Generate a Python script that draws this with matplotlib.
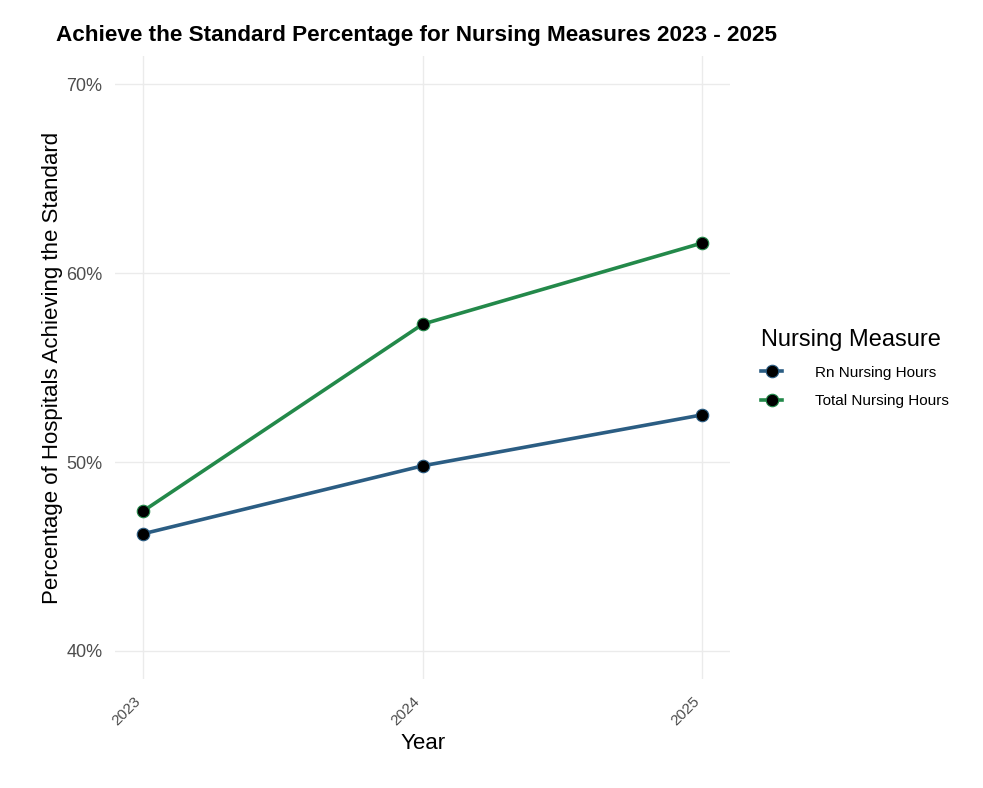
import matplotlib

matplotlib.use("Agg")

import matplotlib.pyplot as plt
from matplotlib.ticker import FuncFormatter

plt.rcParams["font.family"] = ["Liberation Sans", "DejaVu Sans"]

years = [2023, 2024, 2025]
rn_hours = [46.2, 49.8, 52.5]
total_hours = [47.4, 57.3, 61.6]
series_names = ["Rn Nursing Hours", "Total Nursing Hours"]
colors = ["#2b5d83", "#23894a"]

fig = plt.figure(figsize=(9.83, 7.88), dpi=100)
ax = fig.add_axes([0.117, 0.138, 0.626, 0.791])

for values, name, color in zip([rn_hours, total_hours], series_names, colors):
    ax.plot(years, values, color=color, linewidth=2.6, label=name,
            marker="o", markersize=9, markerfacecolor="black",
            markeredgecolor=color, markeredgewidth=0.8, zorder=3)

ax.set_xlim(2022.9, 2025.1)
ax.set_ylim(38.5, 71.5)
ax.set_xticks(years)
ax.set_xticklabels([str(y) for y in years], rotation=45, ha="right",
                   va="top", fontsize=11, color="#4d4d4d")
ax.set_yticks([40, 50, 60, 70])
ax.yaxis.set_major_formatter(FuncFormatter(lambda v, _: f"{v:.0f}%"))
ax.tick_params(axis="y", labelsize=13, labelcolor="#4d4d4d")
ax.tick_params(axis="x", pad=11)
ax.tick_params(length=0)
ax.tick_params(axis="y", pad=9)
ax.grid(True, color="#ebebeb", linewidth=1.0)
ax.set_axisbelow(True)
for s in ax.spines.values():
    s.set_visible(False)

ax.set_xlabel("Year", fontsize=16, labelpad=3)
ax.set_ylabel("Percentage of Hospitals Achieving the Standard", fontsize=16)
ax.yaxis.set_label_coords(-0.084, 0.5)
fig.text(0.057, 0.955, "Achieve the Standard Percentage for Nursing Measures 2023 - 2025",
         fontsize=16.2, fontweight="bold", ha="left", va="center")

leg = fig.legend(loc="upper left", bbox_to_anchor=(0.768, 0.59), frameon=False,
                 title="Nursing Measure", title_fontsize=17, fontsize=11,
                 handlelength=1.4, handletextpad=2.1, borderaxespad=0,
                 labelspacing=0.95)
leg._legend_box.align = "left"

fig.savefig("out.png", dpi=100, facecolor="white")
